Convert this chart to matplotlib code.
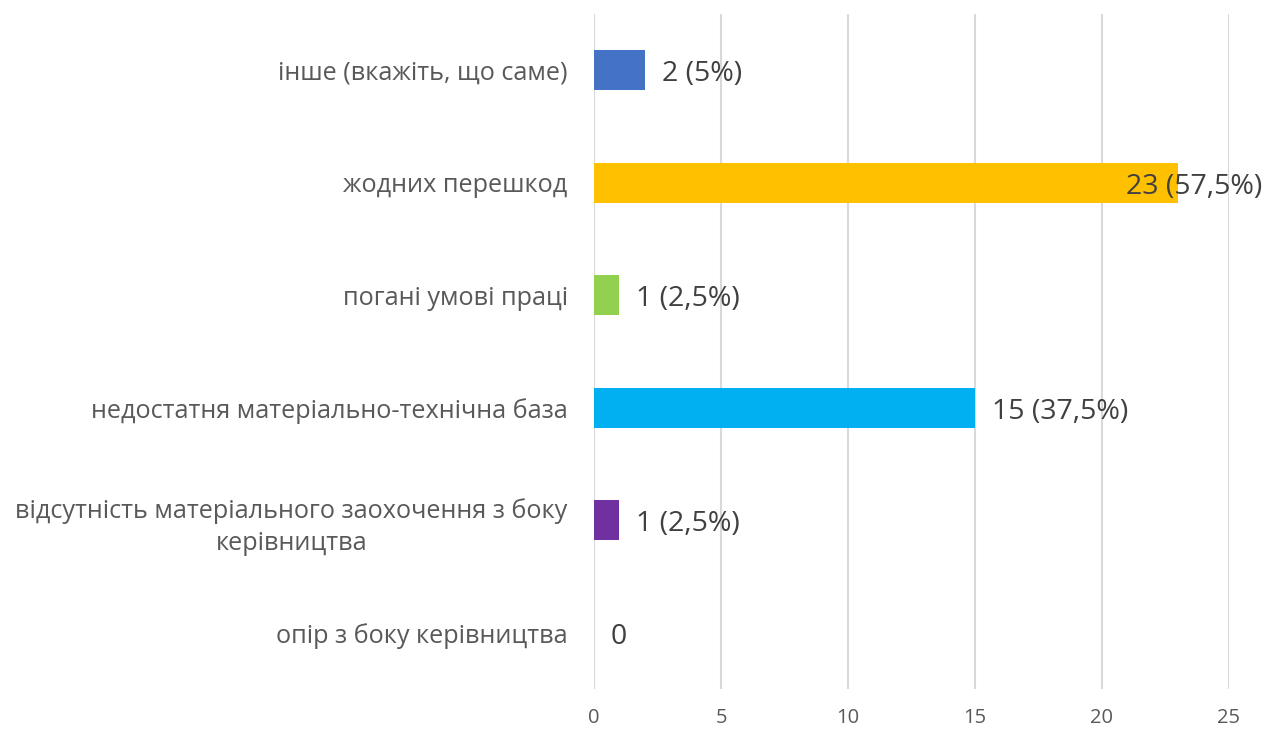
import matplotlib.pyplot as plt
import numpy as np

plt.rcParams["font.family"] = ["Open Sans", "DejaVu Sans"]

categories = [
    "опір з боку керівництва",
    "відсутність матеріального заохочення з боку\nкерівництва",
    "недостатня матеріально-технічна база",
    "погані умові праці",
    "жодних перешкод",
    "інше (вкажіть, що саме)",
]
values = [0, 1, 15, 1, 23, 2]
labels = ["0", "1 (2,5%)", "15 (37,5%)", "1 (2,5%)", "23 (57,5%)", "2 (5%)"]
colors = ["#7030A0", "#7030A0", "#00B0F0", "#92D050", "#FFC000", "#4472C4"]
xticks = [0, 5, 10, 15, 20, 25]

fig = plt.figure(figsize=(12.65, 7.31), dpi=100)
ax = fig.add_axes([0.4696, 0.0575, 0.5019, 0.9235])

y = np.arange(len(categories))
ax.barh(y, values, height=0.355, color=colors, zorder=3)

ax.set_xlim(0, 25)
ax.set_ylim(-0.5, len(categories) - 0.5)
ax.set_xticks(xticks)
ax.set_xticklabels([str(t) for t in xticks], fontsize=14.5, color="#595959")
ax.set_yticks(y)
ax.set_yticklabels(categories, fontsize=18.2, color="#595959",
                   multialignment="center", linespacing=1.38)
ax.tick_params(axis="y", length=0, pad=19)
ax.tick_params(axis="x", length=0, pad=14)
ax.grid(axis="x", color="#D9D9D9", linewidth=1.5, zorder=0)
for s in ax.spines.values():
    s.set_visible(False)

for yi, v, lab in zip(y, values, labels):
    if v > 20:
        # label would run past the plot, so Excel pulls it back over the bar
        ax.annotate(lab, xy=(1, yi), xycoords=("axes fraction", "data"),
                    xytext=(33, -4), textcoords="offset pixels",
                    ha="right", va="center", fontsize=20.5, color="#404040", zorder=4)
    else:
        ax.annotate(lab, xy=(v, yi), xytext=(17, -4), textcoords="offset pixels",
                    ha="left", va="center", fontsize=20.5, color="#404040", zorder=4)

fig.savefig("out.png", dpi=100)
